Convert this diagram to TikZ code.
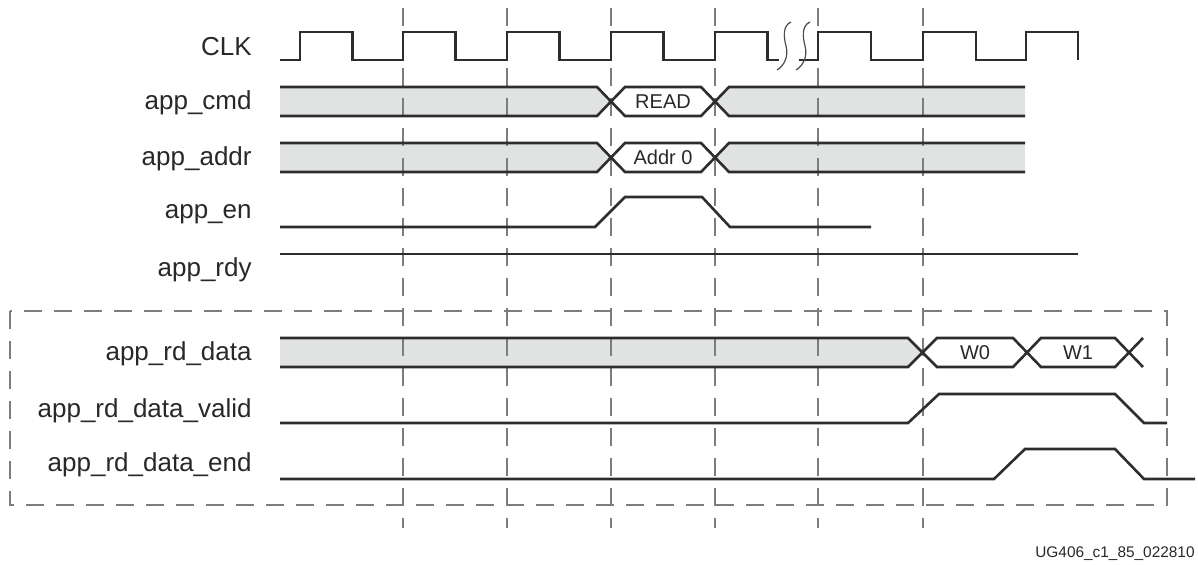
\documentclass[tikz,border=0pt]{standalone}
\usepackage{fontspec}
\setmainfont{Liberation Sans}
\usepackage{tikz}
\definecolor{sigdark}{RGB}{45,45,45}
\definecolor{busgray}{RGB}{225,226,226}
\definecolor{guidegray}{RGB}{125,125,125}
\definecolor{textdark}{RGB}{40,40,40}

\begin{document}
\begin{tikzpicture}[
  x=0.5pt, y=-0.5pt,
  every node/.style={font=\fontsize{13}{15}\selectfont, text=textdark},
  sname/.style={anchor=east, inner sep=0pt},
  val/.style={font=\fontsize{10}{12}\selectfont, inner sep=0pt},
  sig/.style={draw=sigdark, line width=1.3pt},
  bus/.style={sig, fill=white},
  guide/.style={draw=guidegray, line width=1pt, dash pattern=on 9pt off 6pt},
  brk/.style={draw=sigdark!85, line width=0.6pt}
]
  \useasboundingbox (0,0) rectangle (1198,565);

  \node[sname] (lclk)   at (252,47)  {CLK};
  \node[sname] (lcmd)   at (252,103) {app\_cmd};
  \node[sname] (laddr)  at (252,159) {app\_addr};
  \node[sname] (len)    at (252,214) {app\_en};
  \node[sname] (lrdy)   at (252,270) {app\_rdy};
  \node[sname] (ldata)  at (252,354) {app\_rd\_data};
  \node[sname] (lvalid) at (252,411) {app\_rd\_data\_valid};
  \node[sname] (lend)   at (252,465) {app\_rd\_data\_end};

  % gray bus fills
  \fill[busgray] (280,87) -- (597,87) -- (611,101.5) -- (597,116) -- (280,116) -- cycle;
  \fill[busgray] (715,101.5) -- (729,87) -- (1025,87) -- (1025,116) -- (729,116) -- cycle;
  \fill[busgray] (280,143) -- (597,143) -- (611,157.5) -- (597,172) -- (280,172) -- cycle;
  \fill[busgray] (715,157.5) -- (729,143) -- (1025,143) -- (1025,172) -- (729,172) -- cycle;
  \fill[busgray] (280,338) -- (908,338) -- (922.5,352.5) -- (908,367) -- (280,367) -- cycle;

  \foreach \x in {403,507,611,715,818,923}
    \draw[guide] (\x,8) -- (\x,528);
  \draw[guide] (10,311) rectangle (1167,505);

  \draw[sig] (280,60) foreach \x in {300,403,507,611,715} {
    -- (\x,60) -- (\x,32) -- (\x+52.5,32) -- (\x+52.5,60) } -- (779,60);
  \draw[sig] (799,60) foreach \x in {818,923} {
    -- (\x,60) -- (\x,32) -- (\x+53,32) -- (\x+53,60) }
    -- (1026,60) -- (1026,32) -- (1078,32) -- (1078,60);
  \draw[brk] (791,22) .. controls (782,26) and (784,38) .. (786,46)
    .. controls (789,56) and (784,66) .. (777,70);
  \draw[brk] (810,22) .. controls (801,26) and (803,38) .. (805,46)
    .. controls (808,56) and (803,66) .. (796,70);

  \draw[sig] (280,87) -- (597,87) -- (611,101.5) -- (597,116) -- (280,116);
  \draw[bus] (611,101.5) -- (625,87) -- (701,87) -- (715,101.5) -- (701,116) -- (625,116) -- cycle;
  \draw[sig] (1025,87) -- (729,87) -- (715,101.5) -- (729,116) -- (1025,116);
  \node[val] (vread) at (663,101.5) {READ};

  \draw[sig] (280,143) -- (597,143) -- (611,157.5) -- (597,172) -- (280,172);
  \draw[bus] (611,157.5) -- (625,143) -- (701,143) -- (715,157.5) -- (701,172) -- (625,172) -- cycle;
  \draw[sig] (1025,143) -- (729,143) -- (715,157.5) -- (729,172) -- (1025,172);
  \node[val] (vaddr) at (663,157.5) {Addr 0};

  \draw[sig] (280,227) -- (595,227) -- (625,197) -- (702,197) -- (730,227) -- (871,227);
  \draw[sig] (280,254) -- (1078,254);

  \draw[sig] (280,338) -- (908,338) -- (922.5,352.5) -- (908,367) -- (280,367);
  \draw[bus] (922.5,352.5) -- (937,338) -- (1013,338) -- (1027,352.5) -- (1013,367) -- (937,367) -- cycle;
  \draw[bus] (1027,352.5) -- (1041,338) -- (1115,338) -- (1129,352.5) -- (1115,367) -- (1041,367) -- cycle;
  \draw[sig] (1129,352.5) -- (1143,338) (1129,352.5) -- (1143,367);
  \node[val] (vw0) at (975,352.5) {W0};
  \node[val] (vw1) at (1078,352.5) {W1};

  \draw[sig] (280,423) -- (908,423) -- (939,394) -- (1115,394) -- (1144,423) -- (1167,423);
  \draw[sig] (280,479) -- (994,479) -- (1025,449) -- (1115,449) -- (1144,479) -- (1195,479);

  \node[anchor=east, inner sep=0pt, font=\fontsize{7.7}{9}\selectfont] (figid) at (1195,554) {UG406\_c1\_85\_022810};
\end{tikzpicture}
\end{document}
